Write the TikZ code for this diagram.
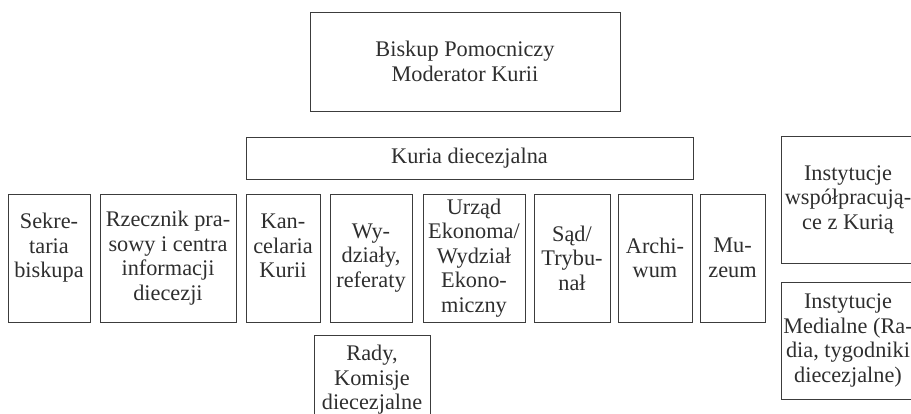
\documentclass[tikz,border=0pt]{standalone}
\usepackage{fontspec}
\setmainfont{Liberation Serif}
\definecolor{linec}{HTML}{3C3C3C}
\definecolor{textc}{HTML}{2E2E2E}
\begin{document}
\begin{tikzpicture}[x=1pt,y=-1pt,
  box/.style={draw=linec, line width=0.9pt, inner sep=0pt, align=center,
    text=textc, font=\fontsize{22.3}{24.5}\selectfont},
  rowbox/.style={box, minimum height=128pt}]
\useasboundingbox (0,0) rectangle (911,414);
\clip (0,0) rectangle (911,414);
\node[box, minimum width=310pt, minimum height=99pt] (top) at (465,61.5) {Biskup Pomocniczy\\Moderator Kurii};
\node[box, minimum width=447pt, minimum height=42pt] (kuria) at (469.5,158) {Kuria diecezjalna};
\node[rowbox, minimum width=82pt] (sek) at (49,258) {Sekre-\\taria\\biskupa\\~};
\node[rowbox, minimum width=136pt] (rzecz) at (168,258) {Rzecznik pra-\\sowy i centra\\informacji\\diecezji};
\node[rowbox, minimum width=74pt] (kanc) at (283,258) {Kan-\\celaria\\Kurii\\~};
\node[rowbox, minimum width=82pt] (wydz) at (371,258) {Wy-\\działy,\\referaty};
\node[rowbox, minimum width=102pt] (urzad) at (474,258) {Urząd\\Ekonoma/\\Wydział\\Ekono-\\miczny};
\node[rowbox, minimum width=76pt] (sad) at (572,258) {Sąd/\\Trybu-\\nał};
\node[rowbox, minimum width=74pt] (arch) at (655,258) {Archi-\\wum};
\node[rowbox, minimum width=65pt] (muz) at (732.5,258) {Mu-\\zeum};
\node[box, minimum width=134pt, minimum height=127pt] (inst1) at (848,199.5) {Instytucje\\współpracują-\\ce z Kurią};
\node[box, minimum width=134pt, minimum height=117pt] (inst2) at (848,340.5) {Instytucje\\Medialne (Ra-\\dia, tygodniki\\diecezjalne)};
\node[box, minimum width=116pt, minimum height=110pt] (rady) at (372,390) {Rady,\\Komisje\\diecezjalne\\~};
\end{tikzpicture}
\end{document}
